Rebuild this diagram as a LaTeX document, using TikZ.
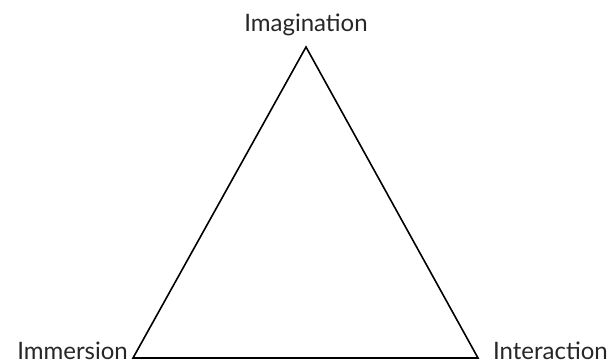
\documentclass[tikz,border=0pt]{standalone}
\usepackage{fontspec}
\setmainfont{Lato}
\begin{document}
\begin{tikzpicture}[x=1pt,y=-1pt,
  lbl/.style={inner sep=0pt,font=\fontsize{24}{26}\selectfont,text=black!85},
  edge/.style={line width=1.6pt,line join=miter}]
\useasboundingbox (0,0) rectangle (610,363);
\coordinate (top) at (306,47);
\coordinate (bl) at (133,358);
\coordinate (br) at (478,358);
\draw[edge] (top) -- (bl) -- (br) -- cycle;
\node[lbl,anchor=base] (ima) at (306,32) {Imagination};
\node[lbl,anchor=base east] (imm) at (128,359) {Immersion};
\node[lbl,anchor=base east] (int) at (608,359) {Interaction};
\end{tikzpicture}
\end{document}
